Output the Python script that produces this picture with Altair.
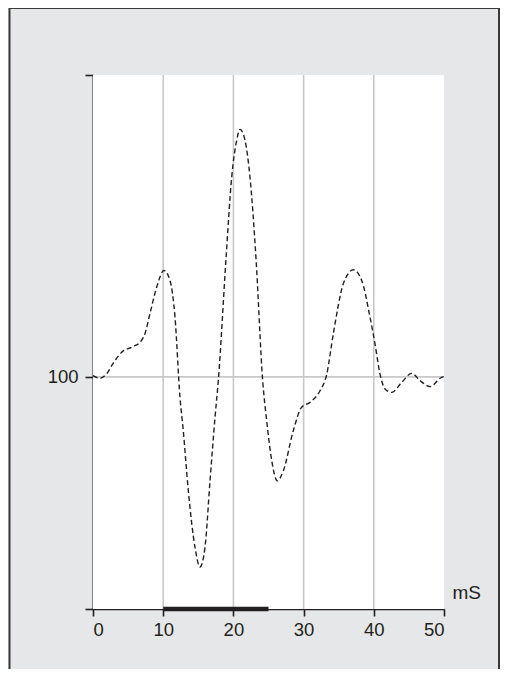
import altair as alt
import pandas as pd

# Curve (x in mS, y in arbitrary units, baseline 100)
xs = [0, 1.0, 1.95, 2.85, 4.09, 5.51, 6.70, 7.41, 8.12, 9.07, 10.11, 10.97, 11.68,
      12.39, 12.86, 13.58, 14.53, 15.24, 15.95, 16.67, 17.38, 17.85, 18.95, 19.76,
      20.47, 20.94, 21.65, 22.36, 23.22, 24.17, 24.74, 25.46, 26.25, 27.11, 28.53,
      29.72, 30.91, 32.34, 33.29, 34.23, 35.66, 37.08, 38.28, 39.46, 40.17, 40.88,
      41.60, 42.55, 43.97, 45.40, 46.58, 48.01, 49.67, 50]
ys = [100.5, 99.4, 101.3, 105.7, 110.6, 112.8, 114.9, 118.7, 127.3, 138.6, 145.8,
      141.5, 125.7, 91.2, 76.8, 50.9, 26.5, 18.1, 26.5, 55.2, 82.5, 98.4, 151.0,
      186.1, 201.9, 206.6, 201.9, 186.1, 151.0, 98.4, 81.1, 63.9, 55.2, 59.5, 76.8,
      86.9, 89.0, 94.0, 101.0, 118.5, 140.1, 146.1, 141.5, 125.7, 114.2, 101.3,
      94.8, 93.3, 97.6, 101.5, 98.4, 95.8, 99.8, 100.1]

x_grid = [10, 20, 30, 40]
y_grid = [100]
bar_start = [10]
bar_end = [25]
x_ticks = [0, 10, 20, 30, 40, 50]
y_ticks = [0, 100, 230]

curve = pd.DataFrame({"t": xs, "v": ys})
xg = pd.DataFrame({"t": x_grid})
yg = pd.DataFrame({"v": y_grid})
bar = pd.DataFrame({"t": bar_start, "t2": bar_end, "v": [0]})

W, H = 351, 534
PL, PT, PR, PB = 85, 67, 56, 60
FONT = "Liberation Sans"
INK = "#231f20"

xscale = alt.Scale(domain=[0, 50], nice=False, zero=False)
yscale = alt.Scale(domain=[0, 230], nice=False, zero=False)

xaxis = alt.Axis(values=x_ticks, grid=False, domainColor=INK, domainWidth=1.6,
                 tickColor=INK, tickWidth=1.6, tickSize=7, labelFont=FONT,
                 labelFontSize=18.5, labelColor=INK, labelPadding=4, title="mS",
                 titleFont=FONT, titleFontSize=19, titleFontWeight="normal",
                 titleColor=INK, titleX=W + 8, titleY=-11, titleAlign="left",
                 titleBaseline="alphabetic", titleAngle=0)
yaxis = alt.Axis(values=y_ticks, grid=False, domainColor=INK, domainWidth=2,
                 tickColor=INK, tickWidth=1.6, tickSize=8, labelFont=FONT,
                 labelFontSize=18.5, labelColor=INK, labelPadding=7,
                 labelExpr="datum.value == 100 ? '100' : ''", title=None)

frame = alt.Chart(pd.DataFrame({"a": [0]})).mark_rect(
    fill=None, stroke="#3a3a3a", strokeWidth=2
).encode(x=alt.value(-PL + 1.5), x2=alt.value(W + PR - 1), y=alt.value(-PT),
         y2=alt.value(H + PB + 20))

plot_bg = alt.Chart(pd.DataFrame({"a": [0]})).mark_rect(fill="white").encode(
    x=alt.value(0), x2=alt.value(W), y=alt.value(0), y2=alt.value(H))

xgrid = alt.Chart(xg).mark_rule(color="#c8c8c8", strokeWidth=1.6).encode(
    x=alt.X("t:Q", scale=xscale, axis=xaxis))
ygrid = alt.Chart(yg).mark_rule(color="#c8c8c8", strokeWidth=1.6).encode(
    y=alt.Y("v:Q", scale=yscale, axis=yaxis))

line = alt.Chart(curve).mark_line(
    color=INK, strokeWidth=1.4, strokeDash=[5, 3], interpolate="monotone"
).encode(x=alt.X("t:Q", scale=xscale, axis=xaxis),
         y=alt.Y("v:Q", scale=yscale, axis=yaxis))

stim = alt.Chart(bar).mark_rule(color=INK, strokeWidth=4.5).encode(
    x=alt.X("t:Q", scale=xscale, axis=xaxis), x2="t2:Q",
    y=alt.Y("v:Q", scale=yscale, axis=yaxis))

chart = alt.layer(frame, plot_bg, xgrid, ygrid, line, stim).properties(
    width=W, height=H,
    autosize=alt.AutoSizeParams(type="none"),
    padding={"left": PL, "top": PT, "right": PR, "bottom": PB},
    background="#e6e7e8",
).configure_view(stroke=None, fill=None)

chart.save("out.html", embed_options={"renderer": "svg", "actions": False})
